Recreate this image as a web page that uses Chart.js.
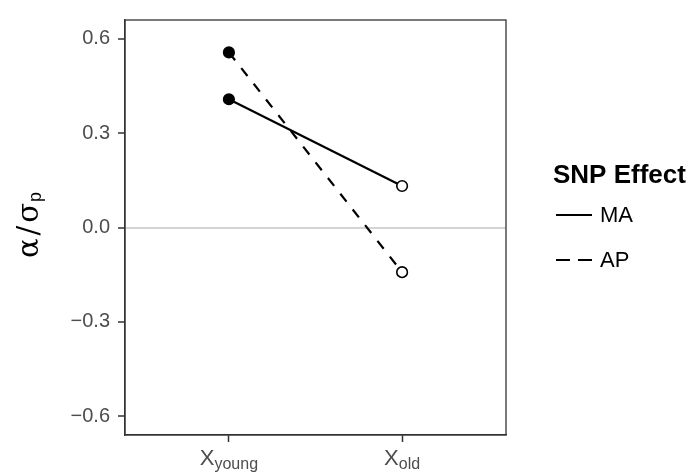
<!DOCTYPE html>
<html>
<head>
<meta charset="UTF-8">
<title>SNP Effect</title>
<script src="https://cdn.jsdelivr.net/npm/chart.js@4.4.1/dist/chart.umd.min.js"></script>
<style>
    html, body { margin: 0; padding: 0; background: #fff; }
    #wrap { width: 691px; height: 475px; }
</style>
</head>
<body>
<div id="wrap"><canvas id="chart" width="691" height="475"></canvas></div>
<script>
// data
const groups = ['young', 'old'];
const groupPos = [1, 2];
const seriesNames = ['MA', 'AP'];
const maValues = [0.408, 0.132];
const apValues = [0.557, -0.142];
const yTicks = [-0.6, -0.3, 0, 0.3, 0.6];

const FONT = '"Liberation Sans", Arial, sans-serif';
const SERIF = '"DejaVu Serif", serif';
const dashes = { MA: [], AP: [10, 10] };

function toPoints(vals) {
    return vals.map((v, i) => ({ x: groupPos[i], y: v }));
}

function fmtTick(v) {
    if (v === 0) return '0.0';
    return (v < 0 ? '\u2212' : '') + Math.abs(v).toFixed(1);
}

const decor = {
    id: 'decor',
    afterDraw(chart) {
        const { ctx, chartArea: a, scales } = chart;
        ctx.save();

        // panel border
        ctx.strokeStyle = '#333';
        ctx.lineWidth = 1.3;
        ctx.strokeRect(a.left, a.top, a.right - a.left, a.bottom - a.top);

        // x tick labels with subscripts
        ctx.fillStyle = '#4d4d4d';
        ctx.textBaseline = 'alphabetic';
        ctx.textAlign = 'left';
        groups.forEach((g, i) => {
            const px = scales.x.getPixelForValue(groupPos[i]);
            ctx.font = '22px ' + FONT;
            const wX = ctx.measureText('X').width;
            ctx.font = '16px ' + FONT;
            const wS = ctx.measureText(g).width;
            const x0 = px - (wX + wS) / 2;
            ctx.font = '22px ' + FONT;
            ctx.fillText('X', x0, 465);
            ctx.font = '16px ' + FONT;
            ctx.fillText(g, x0 + wX, 469);
        });

        // y axis title  alpha / sigma_p
        ctx.save();
        ctx.translate(38, 225);
        ctx.rotate(-Math.PI / 2);
        ctx.fillStyle = '#000';
        const parts = [['\u03b1', 29 + 'px ' + SERIF, 0, 0], ['/', 29 + 'px ' + SERIF, 0, 3],
                       ['\u03c3', 29 + 'px ' + SERIF, 0, 3], ['p', 18 + 'px ' + FONT, 3, 1]];
        let total = 0;
        parts.forEach(p => {
            ctx.font = p[1];
            total += ctx.measureText(p[0]).width + p[3];
        });
        let cx = -total / 2;
        parts.forEach(p => {
            cx += p[3];
            ctx.font = p[1];
            ctx.fillText(p[0], cx, p[2]);
            cx += ctx.measureText(p[0]).width;
        });
        ctx.restore();

        // legend
        ctx.fillStyle = '#000';
        ctx.font = 'bold 26px ' + FONT;
        ctx.fillText('SNP Effect', 553, 183);
        chart.data.datasets.forEach((ds, i) => {
            const y = 215 + i * 45;
            ctx.strokeStyle = '#000';
            ctx.lineWidth = 2.2;
            ctx.setLineDash(i === 0 ? [] : [14, 8]);
            ctx.beginPath();
            ctx.moveTo(556, y);
            ctx.lineTo(592, y);
            ctx.stroke();
            ctx.setLineDash([]);
            ctx.font = '22px ' + FONT;
            ctx.textBaseline = 'middle';
            ctx.fillText(ds.label, 600, y + 1);
            ctx.textBaseline = 'alphabetic';
        });

        ctx.restore();
    }
};

new Chart(document.getElementById('chart'), {
    type: 'line',
    data: {
        datasets: [maValues, apValues].map((vals, i) => ({
            label: seriesNames[i],
            data: toPoints(vals),
            borderColor: '#000',
            borderWidth: 2.2,
            borderDash: dashes[seriesNames[i]],
            tension: 0,
            pointRadius: 5.3,
            pointHoverRadius: 5.3,
            pointBorderWidth: 1.6,
            pointBorderColor: '#000',
            pointBackgroundColor: ['#000', '#fff']
        }))
    },
    options: {
        responsive: false,
        devicePixelRatio: 1,
        animation: false,
        layout: { padding: { left: 0, right: 185, top: 7, bottom: 0 } },
        plugins: { legend: { display: false }, tooltip: { enabled: false } },
        scales: {
            x: {
                type: 'linear',
                min: 0.4,
                max: 2.6,
                afterBuildTicks: s => { s.ticks = groupPos.map(v => ({ value: v })); },
                afterFit: s => { s.height = 40; },
                grid: { drawOnChartArea: false, drawTicks: true, tickLength: 7, tickColor: '#333', tickWidth: 1.5 },
                border: { display: true, color: '#333', width: 1.3 },
                ticks: { callback: () => '', font: { size: 1 } }
            },
            y: {
                min: -0.66,
                max: 0.66,
                afterBuildTicks: s => { s.ticks = yTicks.map(v => ({ value: v })); },
                afterFit: s => { s.width = 125; },
                grid: {
                    drawOnChartArea: true,
                    drawTicks: true,
                    tickLength: 7,
                    tickColor: '#333',
                    tickWidth: 1.5,
                    color: c => (c.tick && c.tick.value === 0 ? '#d4d4d4' : 'rgba(0,0,0,0)'),
                    lineWidth: 2
                },
                border: { display: true, color: '#333', width: 1.3 },
                ticks: {
                    callback: v => fmtTick(v),
                    font: { family: FONT, size: 20 },
                    color: '#4d4d4d',
                    padding: 8
                }
            }
        }
    },
    plugins: [decor]
});
</script>
</body>
</html>
